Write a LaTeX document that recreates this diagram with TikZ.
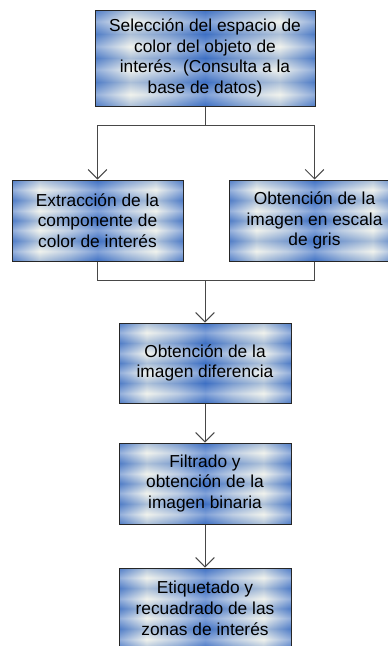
\documentclass[tikz,border=0pt]{standalone}
\usepackage{fontspec}
\setmainfont{Liberation Sans}
\usetikzlibrary{arrows.meta}

\definecolor{boxblue}{RGB}{62,112,196}
\definecolor{boxlight}{RGB}{234,237,228}
\definecolor{linegray}{RGB}{72,72,72}

% stripe textures of the boxes (visible part is 25bp..75bp)
\pgfdeclarehorizontalshading{boxstripes}{100bp}{color(0bp)=(boxblue); color(25bp)=(boxblue!85!boxlight); color(33bp)=(boxlight); color(42bp)=(boxblue!45!boxlight); color(50bp)=(boxblue); color(58bp)=(boxblue!45!boxlight); color(67bp)=(boxlight); color(75bp)=(boxblue!85!boxlight); color(100bp)=(boxblue)}
\pgfdeclareverticalshading{boxbands}{100bp}{color(0bp)=(boxblue); color(25bp)=(boxblue); color(31bp)=(white); color(37.5bp)=(boxblue); color(44bp)=(white); color(50bp)=(boxblue); color(56bp)=(white); color(62.5bp)=(boxblue); color(69bp)=(white); color(75bp)=(boxblue); color(100bp)=(boxblue)}

\tikzset{
  procbox/.style={draw=black!85, line width=0.75pt, align=center, inner sep=2pt,
    minimum width=129pt, minimum height=60.75pt, text=black,
    font=\fontsize{13}{15.6}\selectfont,
    path picture={
      \shade[shading=boxstripes] (path picture bounding box.south west) rectangle (path picture bounding box.north east);
      \shade[shading=boxbands, fill opacity=0.35] (path picture bounding box.south west) rectangle (path picture bounding box.north east);
    }},
  conn/.style={draw=linegray, line width=0.75pt},
  arr/.style={conn, -{Straight Barb[length=7pt,width=14pt]}}
}

\begin{document}
\begin{tikzpicture}[x=0.75pt, y=-0.75pt]
		\useasboundingbox (0,0) rectangle (388,646);
	
		% Process boxes
		\node[procbox, minimum width=165pt, minimum height=72pt] (sel) at (205,58)
			{Selección del espacio de\\color del objeto de\\interés. (Consulta a la\\base de datos)};
		\node[procbox, minimum width=128.25pt] (ext) at (97.5,220.5)
			{Extracción de la\\componente de\\color de interés};
		\node[procbox, minimum width=128.25pt] (gris) at (314.5,220.5)
			{Obtención de la\\imagen en escala\\de gris};
		\node[procbox, minimum height=60pt] (dif) at (205,363)
			{Obtención de la\\imagen diferencia};
		\node[procbox] (fil) at (205,483.5)
			{Filtrado y\\obtención de la\\imagen binaria};
		\node[procbox] (eti) at (205,608.5)
			{Etiquetado y\\recuadrado de las\\zonas de interés};
	
		% Split towards the two branches
		\coordinate (split) at (205,125);
		\draw[conn] (sel.south) -- (split);
		\draw[arr] (split) -| (ext.north);
		\draw[arr] (split) -| (gris.north);
	
		% Join of the two branches
		\coordinate (join) at (205,280);
		\draw[conn] (ext.south) |- (join);
		\draw[conn] (gris.south) |- (join);
		\draw[arr] (join) -- (dif.north);
	
		% Chain downwards
		\draw[arr] (dif.south) -- (fil.north);
		\draw[arr] (fil.south) -- (eti.north);
	
	\end{tikzpicture}
\end{document}
